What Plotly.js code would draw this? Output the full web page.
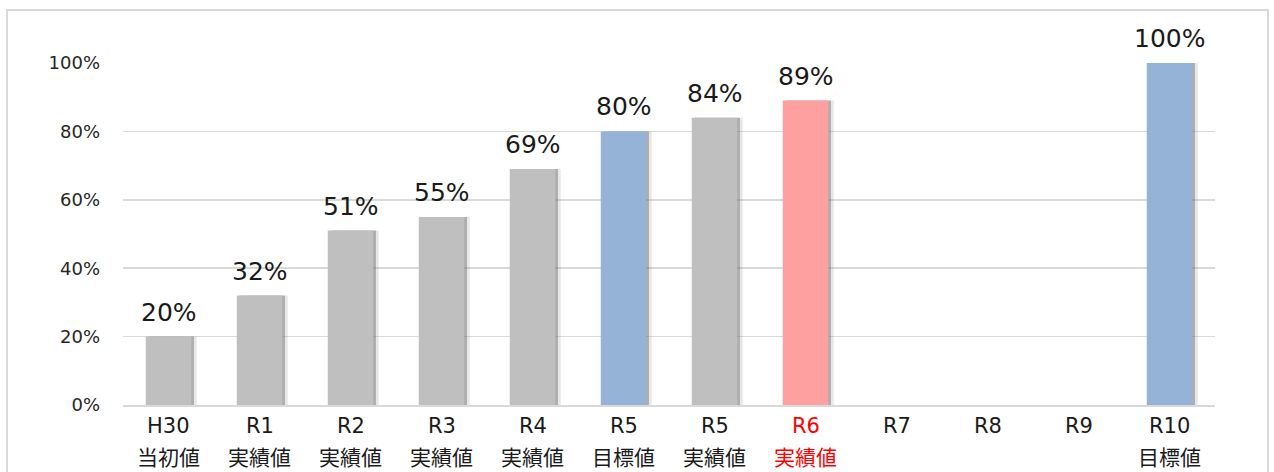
<!DOCTYPE html>
<html><head><meta charset="utf-8">
<script src="https://cdn.plot.ly/plotly-3.0.1.min.js"></script>
<style>
body{margin:0;background:#fff;}
#frame{position:absolute;left:6px;top:9px;width:1263px;height:480px;border:2px solid #d9d9d9;box-sizing:border-box;}
#chart{position:absolute;left:0;top:0;width:1274px;height:472px;}
</style></head>
<body>
<div id="frame"></div>
<div id="chart"></div>
<script>
const categories = ["H30 当初値","R1 実績値","R2 実績値","R3 実績値","R4 実績値","R5 目標値","R5 実績値","R6 実績値","R7","R8","R9","R10 目標値"];
const tickLine1 = ["H30","R1","R2","R3","R4","R5","R5","R6","R7","R8","R9","R10"];
const tickLine2 = ["当初値","実績値","実績値","実績値","実績値","目標値","実績値","実績値","","","","目標値"];
const tickColors = ["#1a1a1a","#1a1a1a","#1a1a1a","#1a1a1a","#1a1a1a","#1a1a1a","#1a1a1a","#ff0000","#1a1a1a","#1a1a1a","#1a1a1a","#1a1a1a"];
const values = [20,32,51,55,69,80,84,89,null,null,null,100];
const barColors = ["#bfbfbf","#bfbfbf","#bfbfbf","#bfbfbf","#bfbfbf","#95b3d7","#bfbfbf","#ffa0a0","#bfbfbf","#bfbfbf","#bfbfbf","#95b3d7"];
const yTicks = [0,20,40,60,80,100];

const font = "DejaVu Sans, Noto Sans CJK JP, sans-serif";

const shadow2 = {
  type:'bar', x:categories, y:values, width:0.5, offset:-0.19,
  marker:{color:'rgba(120,120,120,0.18)', line:{width:0}},
  hoverinfo:'skip', showlegend:false
};
const shadow = {
  type:'bar', x:categories, y:values, width:0.5, offset:-0.22,
  marker:{color:'rgba(90,90,90,0.4)', line:{width:0}},
  hoverinfo:'skip', showlegend:false
};
const bars = {
  type:'bar', x:categories, y:values, width:0.5, offset:-0.25,
  marker:{color:barColors, line:{width:0}},
  showlegend:false
};

const annotations = [];
categories.forEach((c,i)=>{
  if (values[i]!=null) annotations.push({
    x:c, y:values[i], xref:'x', yref:'y', text:values[i]+'%',
    showarrow:false, yanchor:'bottom', yshift:8,
    font:{family:font, size:25, color:'#1a1a1a'}
  });
  annotations.push({
    x:c, y:0, xref:'x', yref:'paper', text:tickLine1[i],
    showarrow:false, yanchor:'middle', yshift:-21,
    font:{family:font, size:21, color:tickColors[i]}
  });
  if (tickLine2[i]) annotations.push({
    x:c, y:0, xref:'x', yref:'paper', text:tickLine2[i],
    showarrow:false, yanchor:'middle', yshift:-53,
    font:{family:font, size:21, color:tickColors[i]}
  });
});

const layout = {
  width:1274, height:472,
  margin:{l:123, r:59, t:63, b:67},
  paper_bgcolor:'rgba(0,0,0,0)', plot_bgcolor:'rgba(0,0,0,0)',
  barmode:'overlay',
  xaxis:{
    type:'category', categoryorder:'array', categoryarray:categories,
    showticklabels:false,
    showgrid:false, showline:true, linecolor:'#d9d9d9', linewidth:2,
    ticks:'', range:[-0.5,11.5], fixedrange:true
  },
  yaxis:{
    range:[0,100], tickvals:yTicks, ticktext:yTicks.map(v=>v+'%'),
    showgrid:true, gridcolor:'#d9d9d9', gridwidth:1.5, zeroline:false,
    ticks:'', ticklabelstandoff:22,
    tickfont:{family:font, size:18, color:'#262626'}
  },
  annotations:annotations
};
Plotly.newPlot('chart',[shadow2,shadow,bars],layout,{displayModeBar:false,staticPlot:true});
</script>
</body></html>
